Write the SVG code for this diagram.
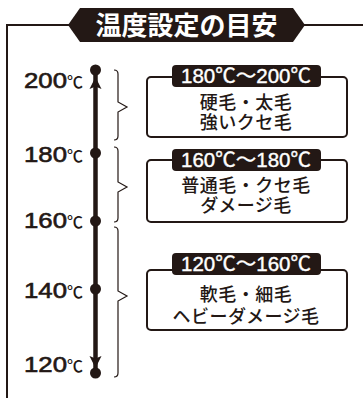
<svg xmlns="http://www.w3.org/2000/svg" width="363" height="398" viewBox="0 0 363 398">
<defs>
<style>
.ln{fill:none;stroke:#231815;stroke-width:2}
.br{fill:none;stroke:#231815;stroke-width:1.2;stroke-linejoin:miter}
.ax{font-family:"Liberation Sans","Noto Sans CJK JP",sans-serif;font-size:22px;fill:#231815;stroke:#231815;stroke-width:0.6}
.deg{font-family:"Noto Sans CJK JP",sans-serif;font-size:16px;font-weight:500;fill:#231815}
.box{fill:#fff;stroke:#231815;stroke-width:2}
.hd{fill:#231815}
.hdt{font-family:"Liberation Sans","Noto Sans CJK JP",sans-serif;font-size:20px;fill:#fff;stroke:#fff;stroke-width:0.4;text-anchor:middle}
.bt{font-family:"Noto Sans CJK JP",sans-serif;font-size:18px;font-weight:500;letter-spacing:0.5px;fill:#231815;text-anchor:middle}
.dot{fill:#231815}
</style>
</defs>
<g id="frame">
<path class="ln" d="M7,398 V25 H70 M303,25 H363"/>
<polygon class="hd" points="68,25 80,8 293,8 305,25 293,42 80,42"/>
<text x="186.5" y="35" style="font-family:'Noto Sans CJK JP',sans-serif;font-size:26px;font-weight:700;fill:#fff;text-anchor:middle">温度設定の目安</text>
</g>
<g id="axis">
<line x1="95.5" y1="72" x2="95.5" y2="371" stroke="#231815" stroke-width="4.5"/>
<path class="dot" d="M95.5,77 L101.5,89 L95.5,86.5 L89.5,89 Z"/>
<path class="dot" d="M95.5,368 L101.5,356 L95.5,358.5 L89.5,356 Z"/>
<circle class="dot" cx="95.5" cy="70" r="5.5"/>
<circle class="dot" cx="95.5" cy="153" r="5.5"/>
<circle class="dot" cx="95.5" cy="221" r="5.5"/>
<circle class="dot" cx="95.5" cy="289" r="5.5"/>
<circle class="dot" cx="95.5" cy="373" r="5.5"/>
</g>
<g id="labels">
<text class="ax" x="24" y="88" textLength="43" lengthAdjust="spacingAndGlyphs">200</text><text class="deg" x="67" y="88">℃</text>
<text class="ax" x="24" y="162" textLength="43" lengthAdjust="spacingAndGlyphs">180</text><text class="deg" x="67" y="162">℃</text>
<text class="ax" x="24" y="228" textLength="43" lengthAdjust="spacingAndGlyphs">160</text><text class="deg" x="67" y="228">℃</text>
<text class="ax" x="24" y="298" textLength="43" lengthAdjust="spacingAndGlyphs">140</text><text class="deg" x="67" y="298">℃</text>
<text class="ax" x="24" y="372" textLength="43" lengthAdjust="spacingAndGlyphs">120</text><text class="deg" x="67" y="372">℃</text>
</g>
<g id="connectors">
<path class="br" d="M114,70 Q118,70 118,74 L118,102 L127,107 L118,112 L118,136 Q118,140 114,140"/>
<path class="br" d="M114,147 Q118,147 118,151 L118,182 L127,187 L118,192 L118,218 Q118,222 114,222"/>
<path class="br" d="M114,227 Q118,227 118,231 L118,291 L127,296 L118,301 L118,373 Q118,377 114,377"/>
</g>
<g id="box1">
<rect class="box" x="147" y="77" width="200" height="60" rx="4"/>
<rect class="hd" x="172" y="65" width="149" height="22" rx="4"/>
<text class="hdt" x="246" y="83" textLength="130" lengthAdjust="spacingAndGlyphs">180℃～200℃</text>
<text class="bt" x="246" y="109">硬毛・太毛</text>
<text class="bt" x="246" y="129">強いクセ毛</text>
</g>
<g id="box2">
<rect class="box" x="147" y="160" width="200" height="62" rx="4"/>
<rect class="hd" x="172" y="149" width="149" height="22" rx="4"/>
<text class="hdt" x="246" y="167" textLength="130" lengthAdjust="spacingAndGlyphs">160℃～180℃</text>
<text class="bt" x="246" y="192">普通毛・クセ毛</text>
<text class="bt" x="246" y="212">ダメージ毛</text>
</g>
<g id="box3">
<rect class="box" x="147" y="270" width="200" height="60" rx="4"/>
<rect class="hd" x="172" y="253" width="149" height="22" rx="4"/>
<text class="hdt" x="246" y="271" textLength="130" lengthAdjust="spacingAndGlyphs">120℃～160℃</text>
<text class="bt" x="246" y="301">軟毛・細毛</text>
<text class="bt" x="246" y="323">ヘビーダメージ毛</text>
</g>
</svg>
